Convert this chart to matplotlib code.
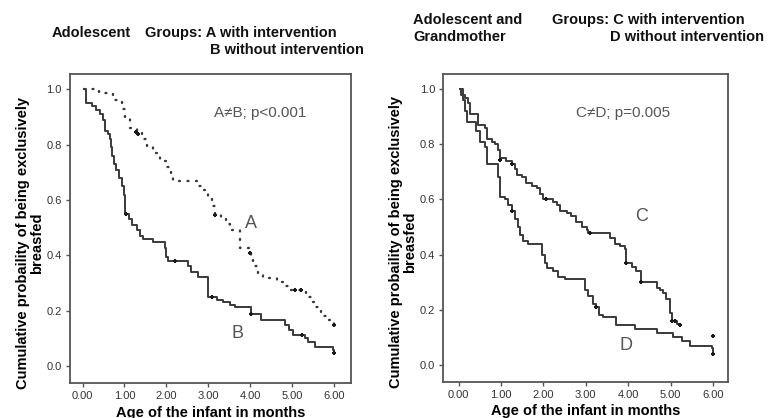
import matplotlib
matplotlib.use("Agg")
import matplotlib.pyplot as plt

plt.rcParams['font.family'] = ['Liberation Sans', 'DejaVu Sans']

# group A (adolescent, with intervention) - dotted
a_t = [0.03, 0.40, 0.73, 0.93, 1.01, 1.13, 1.29, 1.41, 1.53, 1.69, 1.84, 2.00, 2.12, 2.16,
       2.72, 2.85, 3.00, 3.08, 3.15, 3.31, 3.43, 3.51, 3.75, 3.99, 4.03, 4.07, 4.19, 4.31,
       4.63, 4.79, 4.94, 5.34, 5.46, 5.58, 5.70, 5.82, 6.00]
a_s = [1.0, 0.985, 0.96, 0.93, 0.895, 0.86, 0.845, 0.82, 0.79, 0.77, 0.74, 0.72, 0.69, 0.67,
       0.65, 0.635, 0.61, 0.58, 0.545, 0.53, 0.515, 0.49, 0.425, 0.41, 0.39, 0.36, 0.335, 0.32,
       0.305, 0.29, 0.275, 0.25, 0.23, 0.215, 0.18, 0.165, 0.15]
a_cens_t = [1.28, 1.33, 3.15, 3.99, 5.06, 5.22, 6.00]
a_cens_s = [0.845, 0.84, 0.545, 0.41, 0.275, 0.275, 0.15]

# group B (adolescent, without intervention)
b_t = [0.03, 0.08, 0.22, 0.33, 0.41, 0.49, 0.53, 0.61, 0.65, 0.68, 0.70, 0.74, 0.80, 0.86,
       0.93, 0.98, 1.01, 1.10, 1.19, 1.29, 1.37, 1.45, 1.69, 1.96, 2.00, 2.04, 2.52, 2.60,
       2.76, 3.00, 3.20, 3.35, 3.51, 3.63, 4.03, 4.27, 4.83, 4.94, 5.02, 5.30, 5.38, 5.54,
       5.98, 6.00]
b_s = [1.0, 0.95, 0.94, 0.925, 0.91, 0.89, 0.85, 0.84, 0.82, 0.79, 0.76, 0.73, 0.71, 0.68,
       0.65, 0.62, 0.55, 0.53, 0.51, 0.49, 0.47, 0.46, 0.45, 0.425, 0.395, 0.38, 0.36, 0.34,
       0.323, 0.25, 0.24, 0.232, 0.22, 0.215, 0.187, 0.168, 0.148, 0.13, 0.113, 0.10, 0.088, 0.07,
       0.058, 0.047]
b_cens_t = [1.03, 2.20, 3.10, 4.02, 5.25, 6.00]
b_cens_s = [0.55, 0.38, 0.25, 0.187, 0.113, 0.047]

# group C (adolescent and grandmother, with intervention)
c_t = [0.03, 0.05, 0.15, 0.23, 0.28, 0.46, 0.62, 0.66, 0.78, 0.86, 0.93, 0.97, 1.12, 1.25,
       1.33, 1.37, 1.49, 1.60, 1.72, 1.84, 1.92, 2.00, 2.23, 2.31, 2.39, 2.55, 2.66, 2.78,
       2.90, 3.02, 3.06, 3.57, 3.68, 3.80, 3.92, 3.96, 4.08, 4.19, 4.31, 4.67, 4.75, 4.82,
       4.90, 4.98, 5.03, 5.14, 5.22]
c_s = [1.0, 0.98, 0.97, 0.95, 0.91, 0.87, 0.86, 0.82, 0.81, 0.80, 0.78, 0.75, 0.74, 0.73,
       0.71, 0.69, 0.68, 0.66, 0.65, 0.64, 0.62, 0.60, 0.59, 0.58, 0.56, 0.55, 0.54, 0.52,
       0.50, 0.49, 0.48, 0.46, 0.44, 0.43, 0.42, 0.37, 0.355, 0.34, 0.30, 0.28, 0.27, 0.26,
       0.24, 0.19, 0.16, 0.15, 0.145]
c_cens_t = [0.97, 1.25, 2.07, 3.10, 3.96, 4.31, 5.03, 5.10, 5.22, 6.00]
c_cens_s = [0.745, 0.73, 0.60, 0.48, 0.37, 0.30, 0.16, 0.16, 0.145, 0.105]

# group D (adolescent and grandmother, without intervention)
d_t = [0.03, 0.10, 0.15, 0.19, 0.42, 0.50, 0.62, 0.66, 0.93, 0.97, 1.10, 1.17, 1.25, 1.33,
       1.41, 1.45, 1.53, 1.64, 1.96, 2.04, 2.08, 2.23, 2.35, 2.50, 2.98, 3.06, 3.17, 3.25,
       3.30, 3.41, 3.72, 4.16, 4.67, 5.06, 5.26, 5.45, 5.98, 6.00]
d_s = [1.0, 0.96, 0.92, 0.88, 0.85, 0.81, 0.79, 0.73, 0.68, 0.61, 0.60, 0.58, 0.56, 0.53,
       0.50, 0.47, 0.45, 0.44, 0.40, 0.37, 0.35, 0.34, 0.32, 0.31, 0.27, 0.25, 0.22, 0.21,
       0.18, 0.175, 0.145, 0.13, 0.115, 0.10, 0.085, 0.07, 0.06, 0.04]
d_cens_t = [1.25, 3.25, 6.00]
d_cens_s = [0.56, 0.21, 0.04]

x_ticks = [0, 1, 2, 3, 4, 5, 6]
x_labels = ['0.00', '1.00', '2.00', '3.00', '4.00', '5.00', '6.00']
y_ticks = [0.0, 0.2, 0.4, 0.6, 0.8, 1.0]
y_labels = ['0.0', '0.2', '0.4', '0.6', '0.8', '1.0']

line_col = '#3a3a3a'
fig = plt.figure(figsize=(7.71, 4.18), dpi=100)
ax1 = fig.add_axes([0.0908, 0.0837, 0.364, 0.739])
ax2 = fig.add_axes([0.575, 0.0868, 0.369, 0.736])


def style(ax, xlim):
    ax.set_xlim(*xlim)
    ax.set_ylim(-0.061, 1.055)
    ax.set_xticks(x_ticks)
    ax.set_xticklabels(x_labels)
    ax.set_yticks(y_ticks)
    ax.set_yticklabels(y_labels)
    ax.tick_params(direction='out', length=3, width=1, colors='#555555',
                   labelsize=8, labelcolor='#333333', pad=3)
    for sp in ax.spines.values():
        sp.set_color('#555555')
        sp.set_linewidth(1.3)
    ax.set_ylabel('Cumulative probaility of being exclusively\nbreasfed',
                  fontsize=10.5, fontweight='bold', linespacing=1.0)
    ax.yaxis.set_label_coords(-0.093, 0.453)
    ax.set_xlabel('Age of the infant in months', fontsize=10.5, fontweight='bold', labelpad=3)


def censor(ax, t, s):
    ax.plot(t, s, '+', color='#1a1a1a', ms=3.5, mew=1.5)


# left panel
ax1.step(a_t, a_s, where='post', color=line_col, lw=1.7, linestyle=(0, (0.4, 3.2)),
         dash_capstyle='round')
censor(ax1, a_cens_t, a_cens_s)
ax1.step(b_t, b_s, where='post', color=line_col, lw=1.4)
censor(ax1, b_cens_t, b_cens_s)
style(ax1, (-0.30, 6.40))
ax1.text(4.23, 0.913, 'A≠B; p<0.001', fontsize=11, color='#555555', ha='center', va='center')
ax1.text(4.03, 0.516, 'A', fontsize=13, color='#555555', ha='center', va='center')
ax1.text(3.69, 0.118, 'B', fontsize=13, color='#555555', ha='center', va='center')

# right panel
ax2.step(c_t, c_s, where='post', color=line_col, lw=1.4)
censor(ax2, c_cens_t, c_cens_s)
ax2.step(d_t, d_s, where='post', color=line_col, lw=1.4)
censor(ax2, d_cens_t, d_cens_s)
style(ax2, (-0.36, 6.35))
ax2.text(3.88, 0.913, 'C≠D; p=0.005', fontsize=11, color='#555555', ha='center', va='center')
ax2.text(4.31, 0.538, 'C', fontsize=13, color='#555555', ha='center', va='center')
ax2.text(3.96, 0.069, 'D', fontsize=13, color='#555555', ha='center', va='center')

# headers
hdr = dict(fontsize=10.5, fontweight='bold', va='center', ha='left', color='#111111')
fig.text(52 / 771, 1 - 33 / 418, 'Adolescent', **hdr)
fig.text(145 / 771, 1 - 33 / 418, 'Groups: A with intervention', **hdr)
fig.text(210 / 771, 1 - 50 / 418, 'B without intervention', **hdr)
fig.text(413 / 771, 1 - 20 / 418, 'Adolescent and', **hdr)
fig.text(413 / 771, 1 - 37 / 418, 'Grandmother', **hdr)
fig.text(552 / 771, 1 - 20 / 418, 'Groups: C with intervention', **hdr)
fig.text(610 / 771, 1 - 37 / 418, 'D without intervention', **hdr)

fig.savefig('out.png', dpi=100)
